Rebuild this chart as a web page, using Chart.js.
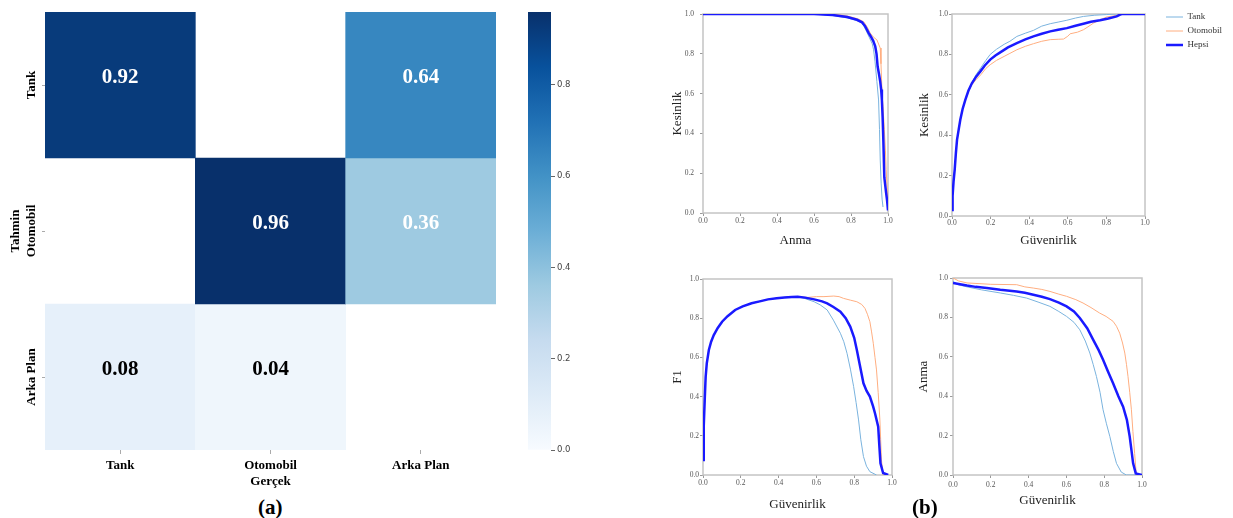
<!DOCTYPE html>
<html>
<head>
<meta charset="utf-8">
<script src="https://cdn.jsdelivr.net/npm/chart.js@4.4.1/dist/chart.umd.min.js"></script>
<style>
  body { margin: 0; background: #fff; }
  #page { position: relative; width: 1233px; height: 518px; overflow: hidden; }
  .pane { position: absolute; }
  .tag { position: absolute; font-family: "Liberation Serif", serif; font-weight: bold; font-size: 21px; line-height: 1; color: #000; }
</style>
</head>
<body>
<div id="page">
  <div class="pane" style="left:0;top:0;width:508px;height:495px"><canvas id="heat"></canvas></div>
  <div class="pane" style="left:500px;top:0;width:100px;height:470px"><canvas id="cbar"></canvas></div>
  <div class="pane" style="left:650px;top:0;width:250px;height:255px"><canvas id="pr"></canvas></div>
  <div class="pane" style="left:905px;top:0;width:328px;height:255px"><canvas id="pc"></canvas></div>
  <div class="pane" style="left:650px;top:262px;width:250px;height:256px"><canvas id="f1"></canvas></div>
  <div class="pane" style="left:905px;top:262px;width:253px;height:256px"><canvas id="rc"></canvas></div>
  <div class="tag" style="left:258px;top:497px">(a)</div>
  <div class="tag" style="left:912px;top:497px">(b)</div>
</div>
<script>
// confusion matrix, rows = Tahmin, columns = Gerçek (null = empty cell)
const classNames = ['Tank', 'Otomobil', 'Arka Plan'];
const rowTank = [0.92, null, 0.64];
const rowOtomobil = [null, 0.96, 0.36];
const rowArkaPlan = [0.08, 0.04, null];
const colorbarMax = 0.96;
const colorbarTicks = [0, 0.2, 0.4, 0.6, 0.8];

const seriesNames = ['Tank', 'Otomobil', 'Hepsi'];

// Kesinlik vs Anma  [anma, kesinlik]
const prTank = [[0,1],[0.3,1],[0.6,1],[0.7,0.993],[0.78,0.98],[0.83,0.968],[0.86,0.955],[0.88,0.92],[0.9,0.88],[0.915,0.85],[0.922,0.82],[0.93,0.76],[0.94,0.66],[0.949,0.568],[0.954,0.42],[0.958,0.266],[0.963,0.15],[0.968,0.07],[0.973,0.03]];
const prOtomobil = [[0,1],[0.3,1],[0.6,1],[0.7,1],[0.78,0.99],[0.84,0.975],[0.87,0.96],[0.89,0.93],[0.904,0.904],[0.92,0.885],[0.94,0.87],[0.958,0.829],[0.962,0.75],[0.968,0.6],[0.973,0.534],[0.98,0.42],[0.986,0.316],[0.99,0.22],[0.995,0.13],[1,0.02]];
const prHepsi = [[0,1],[0.3,1],[0.6,1],[0.7,0.995],[0.78,0.985],[0.832,0.971],[0.86,0.958],[0.877,0.938],[0.895,0.905],[0.907,0.887],[0.92,0.865],[0.931,0.837],[0.938,0.8],[0.944,0.736],[0.951,0.7],[0.958,0.66],[0.963,0.62],[0.967,0.568],[0.971,0.48],[0.975,0.36],[0.98,0.18],[0.99,0.1],[0.995,0.064],[1,0.013]];

// Kesinlik vs Güvenirlik
const pcTank = [[0,0.03],[0.003,0.1],[0.008,0.17],[0.014,0.23],[0.02,0.31],[0.026,0.377],[0.035,0.43],[0.043,0.476],[0.055,0.53],[0.069,0.575],[0.085,0.62],[0.103,0.66],[0.125,0.7],[0.15,0.735],[0.175,0.77],[0.198,0.8],[0.23,0.825],[0.27,0.85],[0.3,0.865],[0.336,0.889],[0.38,0.905],[0.422,0.919],[0.465,0.94],[0.509,0.952],[0.55,0.96],[0.595,0.969],[0.64,0.98],[0.681,0.988],[0.74,0.994],[0.8,0.997],[0.85,1],[1,1]];
const pcOtomobil = [[0,0.03],[0.003,0.1],[0.008,0.17],[0.014,0.23],[0.02,0.31],[0.026,0.377],[0.035,0.43],[0.043,0.476],[0.055,0.53],[0.069,0.575],[0.085,0.615],[0.103,0.65],[0.125,0.675],[0.15,0.7],[0.175,0.73],[0.198,0.749],[0.23,0.77],[0.27,0.79],[0.3,0.805],[0.336,0.823],[0.38,0.84],[0.422,0.853],[0.465,0.865],[0.509,0.873],[0.55,0.875],[0.578,0.876],[0.6,0.89],[0.612,0.902],[0.65,0.91],[0.681,0.922],[0.71,0.94],[0.733,0.955],[0.77,0.972],[0.8,0.985],[0.853,0.993],[0.87,1],[1,1]];
const pcHepsi = [[0,0.03],[0.003,0.1],[0.008,0.17],[0.014,0.23],[0.02,0.31],[0.026,0.377],[0.035,0.43],[0.043,0.476],[0.055,0.53],[0.069,0.575],[0.085,0.62],[0.103,0.657],[0.125,0.69],[0.147,0.716],[0.17,0.745],[0.198,0.774],[0.225,0.795],[0.25,0.81],[0.29,0.835],[0.336,0.856],[0.38,0.874],[0.422,0.889],[0.465,0.902],[0.509,0.914],[0.55,0.922],[0.595,0.93],[0.64,0.942],[0.681,0.952],[0.72,0.962],[0.767,0.969],[0.81,0.978],[0.853,0.988],[0.871,0.997],[0.88,1],[1,1]];

// F1 vs Güvenirlik
const f1Tank = [[0,0.077],[0.003,0.2],[0.005,0.25],[0.009,0.38],[0.014,0.5],[0.02,0.57],[0.031,0.638],[0.043,0.68],[0.057,0.714],[0.078,0.75],[0.101,0.782],[0.13,0.81],[0.17,0.842],[0.21,0.86],[0.257,0.876],[0.3,0.886],[0.344,0.896],[0.39,0.902],[0.431,0.906],[0.47,0.908],[0.501,0.91],[0.54,0.9],[0.588,0.884],[0.62,0.868],[0.657,0.842],[0.69,0.79],[0.727,0.723],[0.745,0.68],[0.762,0.621],[0.78,0.54],[0.797,0.451],[0.81,0.37],[0.823,0.281],[0.835,0.18],[0.849,0.094],[0.865,0.045],[0.883,0.017],[0.918,0]];
const f1Otomobil = [[0,0.077],[0.003,0.2],[0.005,0.25],[0.009,0.38],[0.014,0.5],[0.02,0.57],[0.031,0.638],[0.043,0.68],[0.057,0.714],[0.078,0.75],[0.101,0.782],[0.13,0.81],[0.17,0.842],[0.21,0.86],[0.257,0.876],[0.3,0.886],[0.344,0.896],[0.39,0.902],[0.431,0.906],[0.47,0.908],[0.501,0.91],[0.553,0.906],[0.6,0.91],[0.64,0.91],[0.692,0.913],[0.72,0.91],[0.744,0.901],[0.78,0.892],[0.814,0.884],[0.84,0.87],[0.857,0.85],[0.87,0.82],[0.883,0.782],[0.892,0.73],[0.901,0.672],[0.91,0.6],[0.918,0.536],[0.927,0.42],[0.936,0.281],[0.94,0.18],[0.944,0.077],[0.953,0]];
const f1Hepsi = [[0,0.077],[0.003,0.2],[0.005,0.25],[0.009,0.38],[0.014,0.5],[0.02,0.57],[0.031,0.638],[0.043,0.68],[0.057,0.714],[0.078,0.75],[0.101,0.782],[0.13,0.81],[0.17,0.842],[0.21,0.86],[0.257,0.876],[0.3,0.886],[0.344,0.896],[0.39,0.902],[0.431,0.906],[0.47,0.908],[0.501,0.91],[0.54,0.905],[0.588,0.896],[0.63,0.886],[0.657,0.876],[0.69,0.857],[0.727,0.833],[0.755,0.8],[0.779,0.757],[0.8,0.7],[0.814,0.638],[0.83,0.56],[0.849,0.468],[0.865,0.43],[0.883,0.4],[0.9,0.35],[0.91,0.315],[0.927,0.247],[0.933,0.15],[0.939,0.06],[0.953,0.01],[0.98,0]];

// Anma vs Güvenirlik
const rcTank = [[0,0.983],[0.03,0.965],[0.074,0.955],[0.15,0.94],[0.25,0.924],[0.32,0.912],[0.39,0.898],[0.45,0.878],[0.513,0.856],[0.56,0.83],[0.601,0.805],[0.64,0.775],[0.671,0.737],[0.7,0.68],[0.724,0.619],[0.742,0.56],[0.759,0.5],[0.778,0.42],[0.794,0.331],[0.812,0.26],[0.83,0.195],[0.848,0.12],[0.865,0.059],[0.89,0.015],[0.917,0],[1,0]];
const rcOtomobil = [[0,1],[0.03,0.985],[0.074,0.975],[0.2,0.968],[0.337,0.966],[0.38,0.955],[0.425,0.949],[0.47,0.942],[0.513,0.932],[0.56,0.918],[0.601,0.907],[0.65,0.89],[0.688,0.873],[0.73,0.85],[0.776,0.822],[0.81,0.805],[0.847,0.78],[0.865,0.755],[0.882,0.72],[0.897,0.67],[0.909,0.619],[0.918,0.56],[0.926,0.5],[0.935,0.42],[0.944,0.331],[0.952,0.22],[0.961,0.11],[0.97,0],[1,0]];
const rcHepsi = [[0,0.975],[0.03,0.97],[0.074,0.962],[0.12,0.955],[0.179,0.949],[0.25,0.94],[0.337,0.932],[0.38,0.925],[0.425,0.915],[0.47,0.905],[0.513,0.893],[0.56,0.875],[0.601,0.856],[0.64,0.83],[0.671,0.797],[0.71,0.745],[0.742,0.686],[0.77,0.635],[0.794,0.585],[0.82,0.525],[0.847,0.466],[0.875,0.4],[0.9,0.347],[0.92,0.28],[0.935,0.195],[0.945,0.12],[0.953,0.059],[0.967,0.008],[1,0]];

const matrix = [rowTank, rowOtomobil, rowArkaPlan];
const BLUES = ['#f7fbff', '#deebf7', '#c6dbef', '#9ecae1', '#6baed6', '#4292c6', '#2171b5', '#08519c', '#08306b'];
const SERIF = 'Liberation Serif';

function hexRgb(h) {
  return [parseInt(h.slice(1, 3), 16), parseInt(h.slice(3, 5), 16), parseInt(h.slice(5, 7), 16)];
}
function bluesAt(t) {
  t = Math.max(0, Math.min(1, t));
  const p = t * 8;
  const k = Math.min(7, Math.floor(p));
  const f = p - k;
  const a = hexRgb(BLUES[k]), b = hexRgb(BLUES[k + 1]);
  const c = a.map((v, i) => Math.round(v + (b[i] - v) * f));
  return 'rgb(' + c.join(',') + ')';
}

// numbers in the cells and the rotated row names
const cellText = {
  id: 'cellText',
  afterDatasetsDraw(chart) {
    const ctx = chart.ctx;
    ctx.save();
    ctx.textAlign = 'center';
    ctx.textBaseline = 'middle';
    ctx.font = 'bold 21px "' + SERIF + '"';
    matrix.forEach((row, i) => {
      const meta = chart.getDatasetMeta(i);
      row.forEach((v, j) => {
        if (v === null) return;
        const bar = meta.data[j];
        ctx.fillStyle = v / colorbarMax > 0.3 ? '#fff' : '#000';
        ctx.fillText(v.toFixed(2), bar.x, (bar.y + bar.base) / 2 - 7);
      });
    });
    const ys = chart.scales.y;
    ctx.font = 'bold 13px "' + SERIF + '"';
    ctx.fillStyle = '#000';
    classNames.forEach((name, i) => {
      ctx.save();
      ctx.translate(32, ys.getPixelForValue(i + 0.5));
      ctx.rotate(-Math.PI / 2);
      ctx.fillText(name, 0, 0);
      ctx.restore();
    });
    ctx.restore();
  }
};

new Chart(document.getElementById('heat'), {
  type: 'bar',
  data: {
    labels: classNames,
    datasets: matrix.map((row, i) => ({
      label: classNames[i],
      data: row.map(v => v === null ? null : [i, i + 1]),
      backgroundColor: row.map(v => v === null ? 'rgba(0,0,0,0)' : bluesAt(v / colorbarMax)),
      borderWidth: 0,
      grouped: false,
      barPercentage: 1,
      categoryPercentage: 1
    }))
  },
  options: {
    animation: false,
    responsive: true,
    maintainAspectRatio: false,
    layout: { padding: { top: 12, right: 12, left: 0, bottom: 0 } },
    plugins: { legend: { display: false }, tooltip: { enabled: false } },
    scales: {
      x: {
        grid: { display: true, drawOnChartArea: false, offset: false, tickLength: 4, color: '#aaa' },
        border: { display: false },
        ticks: { color: '#000', padding: 4, maxRotation: 0, font: { family: SERIF, weight: 'bold', size: 13 } },
        title: { display: true, text: 'Gerçek', color: '#000', font: { family: SERIF, weight: 'bold', size: 13 }, padding: { top: 0, bottom: 6 } },
        afterFit(s) { s.height = 45; }
      },
      y: {
        type: 'linear', min: 0, max: 3, reverse: true,
        afterBuildTicks(s) { s.ticks = [0.5, 1.5, 2.5].map(v => ({ value: v })); },
        grid: { display: true, drawOnChartArea: false, tickLength: 3, color: '#aaa' },
        border: { display: false },
        ticks: { display: false },
        title: { display: true, text: 'Tahmin', color: '#000', font: { family: SERIF, weight: 'bold', size: 13 }, padding: { top: 8, bottom: 0 } },
        afterFit(s) { s.width = 45; }
      }
    }
  },
  plugins: [cellText]
});

function gradientFill(c) {
  const chart = c.chart;
  const ys = chart.scales.y;
  if (!chart.chartArea || !ys) return BLUES[4];
  const g = chart.ctx.createLinearGradient(0, ys.getPixelForValue(0), 0, ys.getPixelForValue(colorbarMax));
  BLUES.forEach((col, k) => g.addColorStop(k / 8, col));
  return g;
}

new Chart(document.getElementById('cbar'), {
  type: 'bar',
  data: {
    labels: [''],
    datasets: [{ data: [[0, colorbarMax]], backgroundColor: gradientFill, borderWidth: 0, barPercentage: 1, categoryPercentage: 1 }]
  },
  options: {
    animation: false,
    responsive: true,
    maintainAspectRatio: false,
    layout: { padding: { top: 12, bottom: 20, left: 28, right: 0 } },
    plugins: { legend: { display: false }, tooltip: { enabled: false } },
    scales: {
      x: { display: false },
      y: {
        position: 'right', min: 0, max: colorbarMax,
        afterBuildTicks(s) { s.ticks = colorbarTicks.map(v => ({ value: v })); },
        grid: { display: true, drawOnChartArea: false, tickLength: 4, color: '#666' },
        border: { display: false },
        ticks: { color: '#444', padding: 2, font: { family: 'DejaVu Sans', size: 8.5 }, callback: v => v.toFixed(1) },
        afterFit(s) { s.width = 49; }
      }
    }
  }
});

// grey box round the plot area
const frame = {
  id: 'frame',
  beforeDatasetsDraw(chart) {
    const { ctx, chartArea: a } = chart;
    ctx.save();
    ctx.strokeStyle = '#c4c4c4';
    ctx.lineWidth = 1.5;
    ctx.strokeRect(a.left, a.top, a.right - a.left, a.bottom - a.top);
    ctx.restore();
  }
};

// move the legend out to the right of the plot area
const legendSpot = {
  id: 'legendSpot',
  afterLayout(chart) {
    const lg = chart.legend;
    if (!lg || !lg.options.display) return;
    const w = lg.width, h = lg.height;
    lg.left = 256; lg.right = 256 + w;
    lg.top = 7.5; lg.bottom = 7.5 + h;
  }
};

const lineColors = ['#7ab3de', '#ffae80', '#1a1aff'];
const lineWidths = [1, 1, 2.5];

function curveChart(id, series, xTitle, yTitle, lay, showLegend) {
  const tickFont = { family: SERIF, size: 7.5 };
  const titleFont = { family: SERIF, size: 13 };
  return new Chart(document.getElementById(id), {
    type: 'scatter',
    data: {
      datasets: series.map((d, i) => ({
        label: seriesNames[i],
        data: d,
        showLine: true,
        borderColor: lineColors[i],
        backgroundColor: lineColors[i],
        borderWidth: lineWidths[i],
        pointRadius: 0,
        tension: 0,
        order: 2 - i
      }))
    },
    options: {
      animation: false,
      responsive: true,
      maintainAspectRatio: false,
      layout: { padding: { top: lay.padTop, right: lay.padRight, left: 0, bottom: 0 } },
      plugins: {
        tooltip: { enabled: false },
        legend: {
          display: !!showLegend,
          position: 'chartArea',
          align: 'start',
          labels: {
            usePointStyle: true, pointStyle: 'line', pointStyleWidth: 17, padding: 5,
            color: '#333', font: { family: SERIF, size: 9 },
            sort: (a, b) => a.datasetIndex - b.datasetIndex
          }
        }
      },
      scales: {
        x: {
          type: 'linear', min: 0, max: 1,
          grid: { display: true, drawOnChartArea: false, tickLength: 3, color: '#999' },
          border: { display: false },
          ticks: { stepSize: 0.2, maxRotation: 0, color: '#555', padding: lay.xTickPad, font: tickFont, callback: v => v.toFixed(1) },
          title: { display: true, text: xTitle, color: '#222', font: titleFont, padding: { top: 0, bottom: lay.xTitlePad } },
          afterFit(s) { s.height = lay.xHeight; }
        },
        y: {
          type: 'linear', min: 0, max: 1,
          grid: { display: true, drawOnChartArea: false, tickLength: 3, color: '#999' },
          border: { display: false },
          ticks: { stepSize: 0.2, color: '#555', padding: lay.yTickPad, font: tickFont, callback: v => v.toFixed(1) },
          title: { display: true, text: yTitle, color: '#222', font: titleFont, padding: { top: lay.yTitlePad, bottom: 0 } },
          afterFit(s) { s.width = lay.yWidth; }
        }
      }
    },
    plugins: [frame, legendSpot]
  });
}

curveChart('pr', [prTank, prOtomobil, prHepsi], 'Anma', 'Kesinlik',
  { padTop: 14, padRight: 12, yWidth: 53, xHeight: 42, yTitlePad: 20, xTitlePad: 6.5, yTickPad: 6, xTickPad: 1 });
curveChart('pc', [pcTank, pcOtomobil, pcHepsi], 'Güvenirlik', 'Kesinlik',
  { padTop: 14, padRight: 88, yWidth: 47, xHeight: 39, yTitlePad: 12, xTitlePad: 6.5, yTickPad: 1, xTickPad: 0 }, true);
curveChart('f1', [f1Tank, f1Otomobil, f1Hepsi], 'Güvenirlik', 'F1',
  { padTop: 17, padRight: 8, yWidth: 53, xHeight: 43, yTitlePad: 19.5, xTitlePad: 6, yTickPad: 1, xTickPad: 1 });
curveChart('rc', [rcTank, rcOtomobil, rcHepsi], 'Güvenirlik', 'Anma',
  { padTop: 16, padRight: 16, yWidth: 48, xHeight: 43, yTitlePad: 11, xTitlePad: 9.5, yTickPad: 2, xTickPad: 3 });
</script>
</body>
</html>
